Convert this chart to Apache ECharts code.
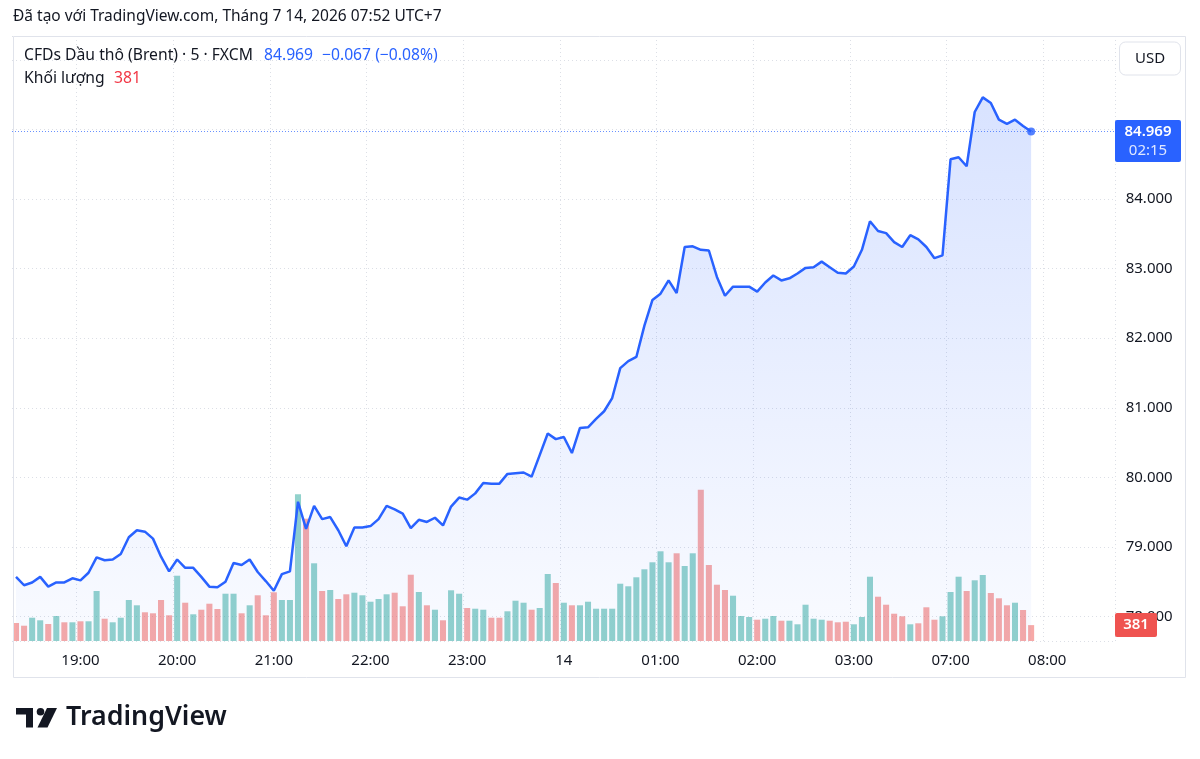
<!DOCTYPE html>
<html>
<head>
<meta charset="utf-8">
<script src="https://cdn.jsdelivr.net/npm/echarts@6/dist/echarts.min.js"></script>
<style>
  html, body { margin: 0; padding: 0; background: #fff; }
  #chart { width: 1200px; height: 759px; }
</style>
</head>
<body>
<div id="chart"></div>
<script>
// 5 phút / nến, 13/07 18:20 -> 14/07 07:50 (UTC+7), nghỉ 04:00-07:00
const sessions = [['18:20', 116], ['07:00', 21]]
const tickTimes = ['19:00', '20:00', '21:00', '22:00', '23:00', '00:00', '01:00', '02:00', '03:00', '07:00', '08:00']
const tickNames = { '00:00': '14' }

// giá đóng cửa (Brent CFD)
const prices = [
  78.57, 78.45, 78.49, 78.57, 78.43, 78.49, 78.49, 78.55, 78.52, 78.63,
  78.85, 78.81, 78.82, 78.90, 79.14, 79.24, 79.22, 79.12, 78.86, 78.65,
  78.82, 78.70, 78.70, 78.57, 78.43, 78.42, 78.50, 78.77, 78.74, 78.82,
  78.64, 78.51, 78.37, 78.61, 78.65, 79.65, 79.26, 79.59, 79.40, 79.43,
  79.24, 79.01, 79.28, 79.28, 79.30, 79.40, 79.59, 79.54, 79.48, 79.27,
  79.39, 79.36, 79.42, 79.31, 79.58, 79.71, 79.68, 79.77, 79.92, 79.91,
  79.91, 80.05, 80.06, 80.07, 80.01, 80.32, 80.63, 80.55, 80.58, 80.35,
  80.71, 80.72, 80.84, 80.95, 81.14, 81.57, 81.67, 81.73, 82.18, 82.55,
  82.64, 82.83, 82.65, 83.31, 83.32, 83.27, 83.26, 82.88, 82.61, 82.74,
  82.74, 82.74, 82.67, 82.80, 82.90, 82.83, 82.86, 82.93, 83.01, 83.02,
  83.10, 83.02, 82.94, 82.93, 83.03, 83.27, 83.68, 83.54, 83.51, 83.38,
  83.31, 83.48, 83.42, 83.31, 83.15, 83.19, 84.57, 84.60, 84.47, 85.25,
  85.46, 85.38, 85.14, 85.08, 85.14, 85.05, 84.969
]

// khối lượng
const volumes = [
  432, 367, 559, 497, 408, 600, 449, 449, 473, 473,
  1200, 535, 449, 559, 984, 857, 689, 665, 984, 617,
  1567, 919, 641, 751, 895, 768, 1135, 1135, 665, 857,
  1097, 617, 1169, 984, 984, 3521, 2935, 1865, 1200, 1224,
  1008, 1121, 1159, 1097, 943, 1008, 1121, 1159, 833, 1591,
  1176, 857, 751, 497, 1217, 1135, 792, 775, 751, 559,
  559, 713, 967, 919, 751, 792, 1608, 1392, 919, 857,
  857, 943, 775, 775, 775, 1375, 1313, 1529, 1721, 1889,
  2153, 1889, 2105, 1800, 2105, 3631, 1824, 1351, 1224, 1087,
  600, 576, 511, 535, 600, 487, 487, 401, 871, 535,
  511, 487, 449, 463, 401, 576, 1543, 1063, 871, 655,
  593, 401, 425, 809, 511, 593, 1176, 1543, 1200, 1457,
  1584, 1152, 1025, 857, 919, 744, 381
]
// 1 = nến tăng, 0 = nến giảm
const volUp = [
  0, 0, 1, 1, 0, 1, 0, 1, 0, 1,
  1, 0, 1, 1, 1, 1, 0, 0, 0, 0,
  1, 0, 1, 0, 0, 0, 1, 1, 0, 1,
  0, 0, 0, 1, 1, 1, 0, 1, 0, 1,
  0, 0, 1, 1, 1, 1, 1, 0, 0, 0,
  1, 0, 1, 0, 1, 1, 0, 1, 1, 0,
  0, 1, 1, 1, 0, 1, 1, 0, 1, 0,
  1, 1, 1, 1, 1, 1, 1, 1, 1, 1,
  1, 1, 0, 1, 1, 0, 0, 0, 0, 1,
  1, 1, 0, 1, 1, 0, 1, 1, 1, 1,
  1, 0, 0, 0, 1, 1, 1, 0, 0, 0,
  0, 1, 0, 0, 0, 1, 1, 1, 0, 1,
  1, 0, 0, 0, 1, 0, 0
]

function buildTimes(list) {
  const out = []
  list.forEach(([start, count]) => {
    let [h, m] = start.split(':').map(Number)
    for (let k = 0; k < count; k++) {
      out.push(String(h).padStart(2, '0') + ':' + String(m).padStart(2, '0'))
      m += 5
      if (m === 60) { m = 0; h = (h + 1) % 24 }
    }
  })
  return out
}

const times = buildTimes(sessions)
const lastIdx = prices.length - 1
const lastPrice = prices[lastIdx]
const lastVol = volumes[volumes.length - 1]

const FONT = '"Noto Sans", sans-serif'
const TEXT = '#131722'
const BLUE = '#2962ff'
const isTick = (i, v) => tickTimes.indexOf(v) >= 0

const myChart = echarts.init(document.getElementById('chart'))

const option = {
  animation: false,
  backgroundColor: '#ffffff',
  textStyle: { fontFamily: FONT },
  grid: { left: 12, right: 84.3, top: 36, bottom: 118 },
  xAxis: {
    type: 'category',
    data: times,
    boundaryGap: true,
    axisLine: { show: false },
    axisTick: { show: false },
    axisLabel: {
      interval: isTick,
      color: TEXT,
      fontSize: 15,
      fontFamily: FONT,
      margin: 12,
      formatter: v => tickNames[v] || v
    },
    splitLine: {
      show: true,
      interval: isTick,
      lineStyle: { color: '#dcdfe6', type: [1, 3], width: 1 }
    }
  },
  yAxis: [
    {
      type: 'value',
      position: 'right',
      min: 77.649,
      max: 86.342,
      splitNumber: 8,
      axisLine: { show: false },
      axisTick: { show: false },
      axisLabel: {
        color: TEXT,
        fontSize: 15,
        fontFamily: FONT,
        margin: 10,
        showMinLabel: false,
        showMaxLabel: false,
        formatter: v => v.toFixed(3)
      },
      splitLine: { lineStyle: { color: '#dcdfe6', type: [1, 3], width: 1 } }
    },
    {
      type: 'value',
      min: 0,
      max: 14520,
      show: false,
      splitLine: { show: false }
    }
  ],
  series: [
    {
      name: 'Khối lượng',
      type: 'bar',
      yAxisIndex: 1,
      barCategoryGap: '25%',
      data: volumes.map((v, i) => ({
        value: v,
        itemStyle: { color: volUp[i] ? 'rgba(38,166,154,0.5)' : 'rgba(239,83,80,0.5)' }
      }))
    },
    {
      name: 'Brent',
      type: 'line',
      data: prices,
      symbol: 'none',
      lineStyle: { color: BLUE, width: 2.5 },
      areaStyle: {
        origin: 'start',
        color: new echarts.graphic.LinearGradient(0, 0, 0, 1, [
          { offset: 0, color: 'rgba(41,98,255,0.26)' },
          { offset: 1, color: 'rgba(41,98,255,0.04)' }
        ])
      },
      markLine: {
        silent: true,
        symbol: 'none',
        label: { show: false },
        lineStyle: { color: 'rgba(41,98,255,0.7)', type: [1, 2], width: 1 },
        data: [{ yAxis: lastPrice }]
      }
    },
    {
      name: 'last',
      type: 'scatter',
      data: [[lastIdx, lastPrice]],
      symbolSize: 8,
      itemStyle: { color: BLUE }
    }
  ],
  graphic: [
    {
      type: 'rect', z: 100, silent: true,
      shape: { x: 13.5, y: 36.5, width: 1172, height: 641 },
      style: { fill: 'none', stroke: '#e0e3eb', lineWidth: 1 }
    },
    {
      type: 'text', z: 100, left: 13, top: 9,
      style: { text: 'Đã tạo với TradingView.com, Tháng 7 14, 2026 07:52 UTC+7', fill: TEXT, font: '15.5px ' + FONT }
    },
    {
      type: 'text', z: 100, left: 24, top: 48,
      style: { text: 'CFDs Dầu thô (Brent) · 5 · FXCM', fill: TEXT, font: '15.7px ' + FONT }
    },
    {
      type: 'text', z: 100, left: 264, top: 48,
      style: { text: lastPrice.toFixed(3), fill: BLUE, font: '15.7px ' + FONT }
    },
    {
      type: 'text', z: 100, left: 322, top: 48,
      style: { text: '−0.067 (−0.08%)', fill: BLUE, font: '15.7px ' + FONT }
    },
    {
      type: 'text', z: 100, left: 24, top: 71,
      style: { text: 'Khối lượng', fill: TEXT, font: '15.7px ' + FONT }
    },
    {
      type: 'text', z: 100, left: 114, top: 71,
      style: { text: String(lastVol), fill: '#f23645', font: '15.7px ' + FONT }
    },
    {
      type: 'rect', z: 100,
      shape: { x: 1119.5, y: 42, width: 61, height: 33, r: 6 },
      style: { fill: '#ffffff', stroke: '#e0e3eb', lineWidth: 1 }
    },
    {
      type: 'text', z: 101, x: 1150, y: 58.5,
      style: { text: 'USD', fill: TEXT, font: '15px ' + FONT, align: 'center', verticalAlign: 'middle' }
    },
    {
      type: 'rect', z: 100,
      shape: { x: 1115, y: 120, width: 66, height: 42, r: 2 },
      style: { fill: BLUE }
    },
    {
      type: 'text', z: 101, x: 1148, y: 132,
      style: { text: lastPrice.toFixed(3), fill: '#ffffff', font: '600 15px ' + FONT, align: 'center', verticalAlign: 'middle' }
    },
    {
      type: 'text', z: 101, x: 1148, y: 151,
      style: { text: '02:15', fill: 'rgba(255,255,255,0.85)', font: '15px ' + FONT, align: 'center', verticalAlign: 'middle' }
    },
    {
      type: 'rect', z: 100,
      shape: { x: 1115, y: 613, width: 42, height: 24, r: 2 },
      style: { fill: '#ef5350' }
    },
    {
      type: 'text', z: 101, x: 1136, y: 625,
      style: { text: String(lastVol), fill: '#ffffff', font: '600 15px ' + FONT, align: 'center', verticalAlign: 'middle' }
    },
    // logo TradingView
    {
      type: 'polygon', z: 100,
      shape: { points: [[16, 708], [33, 708], [33, 727.5], [26, 727.5], [26, 714.5], [16, 714.5]] },
      style: { fill: '#131722' }
    },
    {
      type: 'circle', z: 100,
      shape: { cx: 40.5, cy: 711.8, r: 3.8 },
      style: { fill: '#131722' }
    },
    {
      type: 'polygon', z: 100,
      shape: { points: [[47, 708], [57, 708], [47.5, 727.5], [37.5, 727.5]] },
      style: { fill: '#131722' }
    },
    {
      type: 'text', z: 100, left: 66, top: 704,
      style: { text: 'TradingView', fill: '#131722', font: '600 26.8px ' + FONT }
    }
  ]
}

myChart.setOption(option)
</script>
</body>
</html>
